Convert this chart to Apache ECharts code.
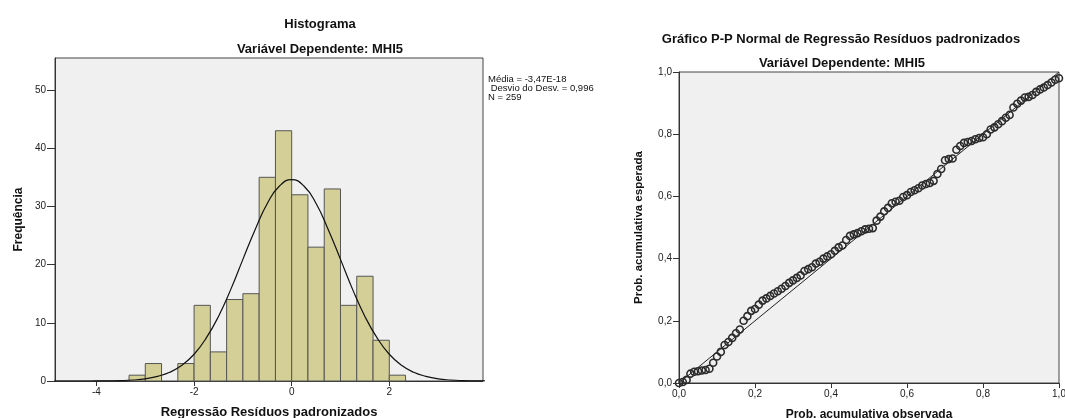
<!DOCTYPE html>
<html><head><meta charset="utf-8">
<script src="https://cdn.jsdelivr.net/npm/echarts@6/dist/echarts.min.js"></script>
<style>html,body{margin:0;padding:0;background:#fff}#c{width:1065px;height:418px}</style>
</head><body><div id="c"></div>
<script>
// ---- Histogram data ----
const binEdges = [-3.333,-3.0,-2.667,-2.333,-2.0,-1.667,-1.333,-1.0,-0.667,-0.333,0.0,0.333,0.667,1.0,1.333,1.667,2.0,2.333];
const binCounts = [1,3,0,3,13,5,14,15,35,43,32,23,33,13,18,7,1];
// normal curve
const curveX = [-5,-4.75,-4.5,-4.25,-4,-3.75,-3.5,-3.25,-3,-2.75,-2.5,-2.25,-2,-1.75,-1.5,-1.25,-1,-0.75,-0.5,-0.25,0,0.25,0.5,0.75,1,1.25,1.5,1.75,2,2.25,2.5,2.75,3,3.25,3.5,3.75,4];
const curveY = [0,0,0,0,0.01,0.03,0.07,0.17,0.37,0.8,1.5,2.7,4.6,7.4,11.1,15.7,20.9,26.0,30.5,33.5,34.6,33.5,30.5,26.0,20.9,15.7,11.1,7.4,4.6,2.7,1.5,0.8,0.37,0.17,0.07,0.03,0.01];
const histXTicks = [-4,-2,0,2];
const histYTicks = [0,10,20,30,40,50];
const statsLines = ['Média = -3,47E-18',' Desvio do Desv. = 0,996','N = 259'];

// ---- P-P plot data ----
const ppObserved = [0.00,0.01,0.02,0.03,0.04,0.05,0.06,0.07,0.08,0.09,0.10,0.11,0.12,0.13,0.14,0.15,0.16,0.17,0.18,0.19,0.20,0.21,0.22,0.23,0.24,0.25,0.26,0.27,0.28,0.29,0.30,0.31,0.32,0.33,0.34,0.35,0.36,0.37,0.38,0.39,0.40,0.41,0.42,0.43,0.44,0.45,0.46,0.47,0.48,0.49,0.50,0.51,0.52,0.53,0.54,0.55,0.56,0.57,0.58,0.59,0.60,0.61,0.62,0.63,0.64,0.65,0.66,0.67,0.68,0.69,0.70,0.71,0.72,0.73,0.74,0.75,0.76,0.77,0.78,0.79,0.80,0.81,0.82,0.83,0.84,0.85,0.86,0.87,0.88,0.89,0.90,0.91,0.92,0.93,0.94,0.95,0.96,0.97,0.98,0.99,1.00];
const ppExpected = [0.000,0.003,0.010,0.030,0.036,0.038,0.040,0.042,0.046,0.065,0.085,0.100,0.122,0.132,0.145,0.160,0.172,0.200,0.215,0.232,0.238,0.252,0.265,0.272,0.280,0.288,0.295,0.303,0.312,0.322,0.330,0.338,0.346,0.360,0.366,0.372,0.384,0.390,0.400,0.407,0.414,0.425,0.436,0.442,0.460,0.473,0.478,0.482,0.488,0.494,0.496,0.498,0.522,0.535,0.552,0.563,0.578,0.583,0.586,0.598,0.604,0.614,0.620,0.626,0.635,0.640,0.643,0.650,0.672,0.688,0.716,0.720,0.722,0.750,0.762,0.772,0.775,0.778,0.784,0.788,0.790,0.800,0.815,0.822,0.832,0.842,0.853,0.862,0.886,0.898,0.908,0.918,0.920,0.926,0.936,0.944,0.950,0.958,0.966,0.975,0.980];
const ppTicks = [0,0.2,0.4,0.6,0.8,1.0];
const refLine = [[0,0],[1,1]];

const FONT = 'Arial, "Liberation Sans", sans-serif';
const chart = echarts.init(document.getElementById('c'), null, {renderer:'canvas'});
const comma = v => v.toFixed(1).replace('.', ',');

const lineStyle = {color:'#333', width:1};

const option = {
  animation:false,
  backgroundColor:'#fff',
  grid:[
    {left:55, top:58, width:428, height:323, show:true, backgroundColor:'#f0f0f0', borderColor:'#444', borderWidth:1, containLabel:false, outerBoundsMode:'none'},
    {left:679, top:72, width:380, height:311, show:true, backgroundColor:'#f0f0f0', borderColor:'#444', borderWidth:1, containLabel:false, outerBoundsMode:'none'}
  ],
  xAxis:[
    {
      gridIndex:0, type:'value', min:-4.85, max:3.92,
      name:'Regressão Resíduos padronizados', nameLocation:'middle', nameGap:25,
      nameTextStyle:{fontFamily:FONT, fontWeight:'bold', fontSize:13, color:'#111', verticalAlign:'top'},
      axisLine:{show:true, onZero:false, lineStyle},
      splitLine:{show:false},
      axisTick:{show:true, length:5, customValues:histXTicks, lineStyle},
      axisLabel:{customValues:histXTicks, fontFamily:FONT, fontSize:10, color:'#222', margin:6}
    },
    {
      gridIndex:1, type:'value', min:0, max:1, interval:0.2,
      name:'Prob. acumulativa observada', nameLocation:'middle', nameGap:26,
      nameTextStyle:{fontFamily:FONT, fontWeight:'bold', fontSize:12, color:'#111', verticalAlign:'top'},
      axisLine:{show:true, onZero:false, lineStyle},
      splitLine:{show:false},
      axisTick:{show:true, length:5, lineStyle},
      axisLabel:{fontFamily:FONT, fontSize:10, color:'#222', margin:6, formatter:comma}
    }
  ],
  yAxis:[
    {
      gridIndex:0, type:'value', min:0, max:55.5,
      name:'Frequência', nameLocation:'middle', nameGap:30,
      nameTextStyle:{fontFamily:FONT, fontWeight:'bold', fontSize:12, color:'#111'},
      axisLine:{show:true, onZero:false, lineStyle},
      splitLine:{show:false},
      axisTick:{show:true, length:8, customValues:histYTicks, lineStyle},
      axisLabel:{customValues:histYTicks, fontFamily:FONT, fontSize:10, color:'#222', margin:9}
    },
    {
      gridIndex:1, type:'value', min:0, max:1, interval:0.2,
      name:'Prob. acumulativa esperada', nameLocation:'middle', nameGap:34,
      nameTextStyle:{fontFamily:FONT, fontWeight:'bold', fontSize:11.5, color:'#111'},
      axisLine:{show:true, onZero:false, lineStyle},
      splitLine:{show:false},
      axisTick:{show:true, length:6, lineStyle},
      axisLabel:{fontFamily:FONT, fontSize:10, color:'#222', margin:7, formatter:comma}
    }
  ],
  series:[
    {
      type:'custom', xAxisIndex:0, yAxisIndex:0,
      data: binCounts.map((c,i)=>[binEdges[i], binEdges[i+1], c]),
      renderItem:(params, api)=>{
        const c = api.value(2);
        if (!c) return null;
        const p0 = api.coord([api.value(0), c]);
        const p1 = api.coord([api.value(1), 0]);
        return {type:'rect', shape:{x:p0[0], y:p0[1], width:p1[0]-p0[0], height:p1[1]-p0[1]},
          style:{fill:'#d4cf97', stroke:'#555', lineWidth:1}};
      },
      encode:{x:[0,1], y:2}
    },
    {
      type:'line', xAxisIndex:0, yAxisIndex:0, smooth:true, symbol:'none', clip:true,
      data: curveX.map((x,i)=>[x, curveY[i]]),
      lineStyle:{color:'#111', width:1.2}, z:5
    },
    {
      type:'line', xAxisIndex:1, yAxisIndex:1, symbol:'none', data:refLine,
      lineStyle:{color:'#222', width:1}, z:3
    },
    {
      type:'scatter', xAxisIndex:1, yAxisIndex:1, symbol:'circle', symbolSize:7,
      data: ppObserved.map((x,i)=>[x, ppExpected[i]]),
      itemStyle:{color:'rgba(0,0,0,0)', borderColor:'#2b2b2b', borderWidth:1.6, opacity:1}, z:4
    }
  ],
  graphic:[
    {type:'text', x:320, y:24, style:{text:'Histograma', fontFamily:FONT, fontWeight:'bold', fontSize:13, fill:'#111', align:'center', verticalAlign:'middle'}},
    {type:'text', x:320, y:49, style:{text:'Variável Dependente: MHI5', fontFamily:FONT, fontWeight:'bold', fontSize:13, fill:'#111', align:'center', verticalAlign:'middle'}},
    {type:'text', x:488, y:79, style:{text:statsLines[0], fontFamily:FONT, fontSize:9.5, fill:'#111', align:'left', verticalAlign:'middle'}},
    {type:'text', x:488, y:88, style:{text:statsLines[1], fontFamily:FONT, fontSize:9.5, fill:'#111', align:'left', verticalAlign:'middle'}},
    {type:'text', x:488, y:97, style:{text:statsLines[2], fontFamily:FONT, fontSize:9.5, fill:'#111', align:'left', verticalAlign:'middle'}},
    {type:'text', x:841, y:39, style:{text:'Gráfico P-P Normal de Regressão Resíduos padronizados', fontFamily:FONT, fontWeight:'bold', fontSize:13, fill:'#111', align:'center', verticalAlign:'middle'}},
    {type:'text', x:842, y:63, style:{text:'Variável Dependente: MHI5', fontFamily:FONT, fontWeight:'bold', fontSize:13, fill:'#111', align:'center', verticalAlign:'middle'}}
  ]
};
chart.setOption(option);
</script>
</body></html>
